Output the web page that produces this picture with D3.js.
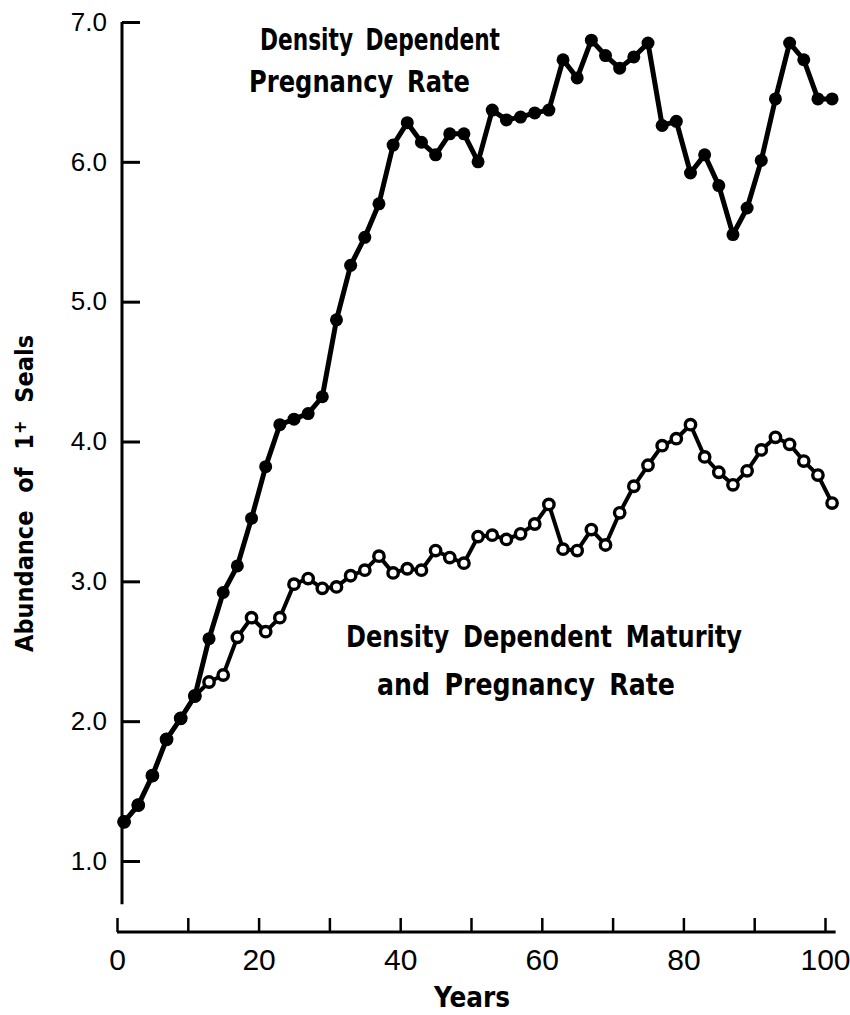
<!DOCTYPE html>
<html>
<head>
<meta charset="utf-8">
<script src="https://d3js.org/d3.v7.min.js"></script>
<style>
  body { margin: 0; background: #fff; }
  .tick text { font-family: "Liberation Sans", Arial, sans-serif; fill: #000; }
  .label { font-family: "Liberation Sans Narrow", "DejaVu Sans Condensed", Arial, sans-serif; font-weight: bold; fill: #000; }
</style>
</head>
<body>
<div id="chart"></div>
<script>
// data: one point every 2 years
var years = d3.range(1, 102, 2);

var pregnancyOnly = [1.28, 1.40, 1.61, 1.87, 2.02, 2.18, 2.59, 2.92, 3.11, 3.45,
    3.82, 4.12, 4.16, 4.20, 4.32, 4.87, 5.26, 5.46, 5.70, 6.12,
    6.28, 6.14, 6.05, 6.20, 6.20, 6.00, 6.37, 6.30, 6.32, 6.35,
    6.37, 6.73, 6.60, 6.87, 6.76, 6.67, 6.75, 6.85, 6.26, 6.29,
    5.92, 6.05, 5.83, 5.48, 5.67, 6.01, 6.45, 6.85, 6.73, 6.45, 6.45];

var maturityAndPregnancy = [1.28, 1.40, 1.61, 1.87, 2.02, 2.18, 2.28, 2.33, 2.60, 2.74,
    2.64, 2.74, 2.98, 3.02, 2.95, 2.96, 3.04, 3.08, 3.18, 3.06,
    3.09, 3.08, 3.22, 3.17, 3.13, 3.32, 3.33, 3.30, 3.34, 3.41,
    3.55, 3.23, 3.22, 3.37, 3.26, 3.49, 3.68, 3.83, 3.97, 4.02,
    4.12, 3.89, 3.78, 3.69, 3.79, 3.94, 4.03, 3.98, 3.86, 3.76, 3.56];

var yTicks = [1, 2, 3, 4, 5, 6, 7];
var xTicks = d3.range(0, 101, 10);
var xLabels = [0, 20, 40, 60, 80, 100];

var svgWidth = 850;
var svgHeight = 1015;

var svg = d3.select("#chart")
    .append("svg")
    .attr("width", svgWidth)
    .attr("height", svgHeight);

// scales (pixel ranges measured on the original figure)
var xScale = d3.scaleLinear().domain([0, 100]).range([117, 825]);
var yScale = d3.scaleLinear().domain([1, 7]).range([861, 22]);

var yAxisX = 122;
var xAxisY = 932;

// y axis, ticks pointing into the plot
var leftAxis = d3.axisLeft(yScale)
    .tickValues(yTicks)
    .tickSizeInner(-18)
    .tickSizeOuter(0)
    .tickPadding(15)
    .tickFormat(d3.format(".1f"));

var yAxis = svg.append("g")
    .attr("transform", `translate(${yAxisX}, 0)`)
    .call(leftAxis);
yAxis.select(".domain").remove();
yAxis.append("line")
    .attr("x1", 0).attr("x2", 0)
    .attr("y1", yScale(7)).attr("y2", yScale(0.69))
    .attr("stroke", "#000")
    .attr("stroke-width", 3);
yAxis.selectAll(".tick line").attr("stroke", "#000").attr("stroke-width", 3);
yAxis.selectAll(".tick text").style("font-size", "26px");

// x axis, ticks pointing up
var bottomAxis = d3.axisBottom(xScale)
    .tickValues(xTicks)
    .tickSizeInner(-14)
    .tickSizeOuter(0)
    .tickPadding(17)
    .tickFormat(d => xLabels.indexOf(d) >= 0 ? d : "");

var xAxis = svg.append("g")
    .attr("transform", `translate(0, ${xAxisY})`)
    .call(bottomAxis);
xAxis.select(".domain").remove();
xAxis.append("line")
    .attr("x1", xScale(0)).attr("x2", xScale(101.5))
    .attr("stroke", "#000")
    .attr("stroke-width", 3);
xAxis.selectAll(".tick line").attr("stroke", "#000").attr("stroke-width", 2.5);
xAxis.selectAll(".tick text").style("font-size", "30px");

// axis titles
svg.append("text")
    .attr("class", "label")
    .attr("x", 472)
    .attr("y", 1007)
    .attr("text-anchor", "middle")
    .style("font-size", "28px")
    .attr("textLength", 76)
    .attr("lengthAdjust", "spacingAndGlyphs")
    .text("Years");

var yTitle = svg.append("text")
    .attr("class", "label")
    .attr("transform", "translate(33, 652) rotate(-90)")
    .style("font-size", "25px")
    .style("word-spacing", "10px");
yTitle.append("tspan").text("Abundance of 1");
yTitle.append("tspan").attr("dy", -7).style("font-size", "18px").text("+");
yTitle.append("tspan").attr("dy", 7).text(" Seals");

// lines
var line = d3.line()
    .x((d, i) => xScale(years[i]))
    .y(d => yScale(d));

svg.append("path")
    .datum(maturityAndPregnancy)
    .attr("d", line)
    .attr("fill", "none")
    .attr("stroke", "#000")
    .attr("stroke-width", 4)
    .attr("stroke-linejoin", "round");

svg.selectAll(".openDot")
    .data(maturityAndPregnancy)
    .enter()
    .append("circle")
    .attr("class", "openDot")
    .attr("cx", (d, i) => xScale(years[i]))
    .attr("cy", d => yScale(d))
    .attr("r", 5.2)
    .attr("fill", "#fff")
    .attr("stroke", "#000")
    .attr("stroke-width", 3.4);

svg.append("path")
    .datum(pregnancyOnly)
    .attr("d", line)
    .attr("fill", "none")
    .attr("stroke", "#000")
    .attr("stroke-width", 5)
    .attr("stroke-linejoin", "round");

svg.selectAll(".fullDot")
    .data(pregnancyOnly)
    .enter()
    .append("circle")
    .attr("class", "fullDot")
    .attr("cx", (d, i) => xScale(years[i]))
    .attr("cy", d => yScale(d))
    .attr("r", 6.5)
    .attr("fill", "#000");

// curve labels
var notes = [
    { text: "Density Dependent", x: 260, y: 50, w: 240 },
    { text: "Pregnancy Rate", x: 249, y: 92, w: 221 },
    { text: "Density Dependent Maturity", x: 346, y: 647, w: 396 },
    { text: "and Pregnancy Rate", x: 377, y: 695, w: 298 }
];

svg.selectAll(".note")
    .data(notes)
    .enter()
    .append("text")
    .attr("class", "label note")
    .attr("x", d => d.x)
    .attr("y", d => d.y)
    .attr("textLength", d => d.w)
    .attr("lengthAdjust", "spacingAndGlyphs")
    .style("font-size", "30px")
    .style("word-spacing", "6px")
    .text(d => d.text);
</script>
</body>
</html>
